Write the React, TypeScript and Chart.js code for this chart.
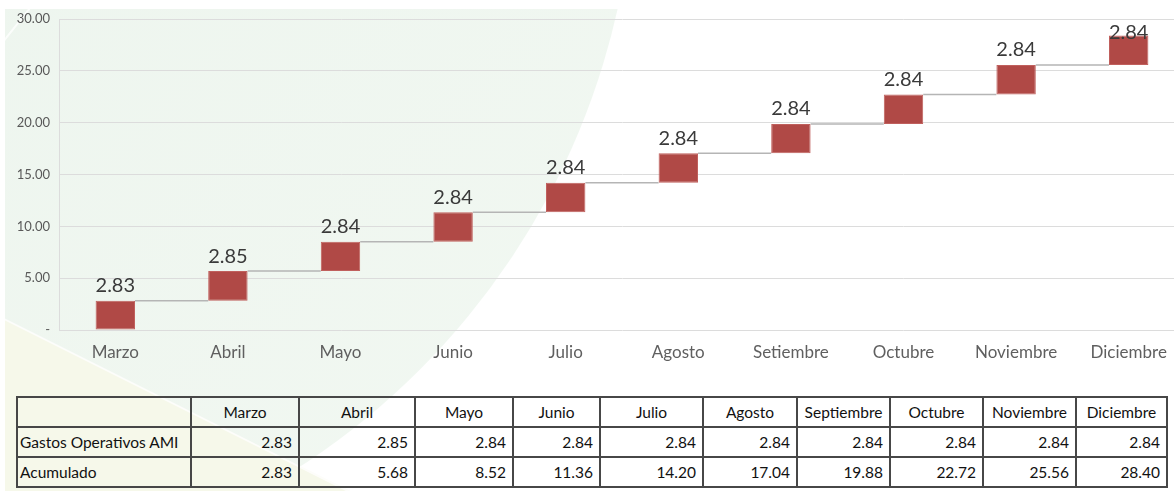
import React, { useEffect, useRef } from "react";
import { Chart, registerables } from "chart.js";

Chart.register(...registerables);

const chartMonths = ["Marzo", "Abril", "Mayo", "Junio", "Julio", "Agosto", "Setiembre", "Octubre", "Noviembre", "Diciembre"];
const tableMonths = ["Marzo", "Abril", "Mayo", "Junio", "Julio", "Agosto", "Septiembre", "Octubre", "Noviembre", "Diciembre"];
const gastos = [2.83, 2.85, 2.84, 2.84, 2.84, 2.84, 2.84, 2.84, 2.84, 2.84];
const acumulado = [2.83, 5.68, 8.52, 11.36, 14.2, 17.04, 19.88, 22.72, 25.56, 28.4];
const rowLabels = ["Gastos Operativos AMI", "Acumulado"];
const yMin = 0;
const yMax = 30;
const yStep = 5;

const colWidths = [174, 108, 116, 98, 87, 103, 94, 93, 93, 93, 91];

const waterfallPlugin = {
  id: "waterfall",
  afterDatasetsDraw(chart: any) {
    const ctx = chart.ctx;
    const meta = chart.getDatasetMeta(0);
    const y = chart.scales.y;
    const area = chart.chartArea;
    ctx.save();
    // connectors
    ctx.strokeStyle = "#b5b5b5";
    ctx.lineWidth = 1.5;
    for (let i = 0; i < meta.data.length - 1; i++) {
      const a = meta.data[i];
      const b = meta.data[i + 1];
      const yy = y.getPixelForValue(acumulado[i]);
      ctx.beginPath();
      ctx.moveTo(a.x + a.width / 2, yy);
      ctx.lineTo(b.x - b.width / 2, yy);
      ctx.stroke();
    }
    // labels
    ctx.fillStyle = "#3a3a3a";
    ctx.font = "20px Lato, 'Open Sans', sans-serif";
    ctx.textAlign = "center";
    ctx.textBaseline = "middle";
    for (let i = 0; i < meta.data.length; i++) {
      const el = meta.data[i];
      const top = y.getPixelForValue(acumulado[i]);
      const ly = Math.max(top - 15, area.top + 14);
      ctx.fillText(gastos[i].toFixed(2), el.x, ly);
    }
    ctx.restore();
  },
};

function ChartView() {
  const ref = useRef<HTMLCanvasElement | null>(null);
  useEffect(() => {
    if (!ref.current) return;
    const chart = new Chart(ref.current, {
      type: "bar",
      data: {
        labels: chartMonths,
        datasets: [
          {
            data: acumulado.map((v, i) => [i === 0 ? 0 : acumulado[i - 1], v]) as any,
            backgroundColor: "#b04946",
            borderColor: "#c0605d",
            borderWidth: 1,
            borderSkipped: false,
            barPercentage: 0.35,
            categoryPercentage: 1,
          },
        ],
      },
      options: {
        animation: false,
        responsive: false,
        layout: { padding: { left: 0, right: 15, top: 19, bottom: 0 } },
        plugins: { legend: { display: false }, tooltip: { enabled: false } },
        scales: {
          x: {
            grid: { display: false, drawTicks: false },
            border: { display: false },
            ticks: { color: "#5f5f5f", font: { family: "Lato, 'Open Sans', sans-serif", size: 17 }, padding: 12 },
            afterFit(scale: any) {
              scale.height = 45;
            },
          },
          y: {
            min: yMin,
            max: yMax,
            grid: { color: "#dcdcdc", drawTicks: false },
            border: { display: true, color: "#dcdcdc" },
            ticks: {
              stepSize: yStep,
              color: "#595959",
              padding: 9,
              font: { family: "Lato, 'Open Sans', sans-serif", size: 13 },
              callback: (v: any) => (Number(v) === 0 ? "-" : Number(v).toFixed(2)),
            },
            afterFit(scale: any) {
              scale.width = 59;
            },
          },
        },
      },
      plugins: [waterfallPlugin],
    });
    return () => chart.destroy();
  }, []);
  return <canvas ref={ref} width={1200} height={375} style={{ position: "absolute", left: 0, top: 0 }} />;
}

const cellBase: React.CSSProperties = {
  border: "2px solid #474747",
  padding: "0 6px 0 2px",
  height: 28,
  fontFamily: "Lato, 'Open Sans', sans-serif",
  fontSize: 15.5,
  color: "#111",
  whiteSpace: "nowrap",
  overflow: "hidden",
};

function DataTable() {
  return (
    <table
      style={{
        position: "absolute",
        left: 16,
        top: 396,
        borderCollapse: "collapse",
        tableLayout: "fixed",
        width: colWidths.reduce((a, b) => a + b, 0),
      }}
    >
      <colgroup>
        {colWidths.map((w, i) => (
          <col key={i} style={{ width: w }} />
        ))}
      </colgroup>
      <tbody>
        <tr>
          <td style={cellBase}></td>
          {tableMonths.map((m) => (
            <td key={m} style={{ ...cellBase, textAlign: "center", padding: 0 }}>
              {m}
            </td>
          ))}
        </tr>
        <tr>
          <td style={cellBase}>{rowLabels[0]}</td>
          {gastos.map((v, i) => (
            <td key={i} style={{ ...cellBase, textAlign: "right" }}>
              {v.toFixed(2)}
            </td>
          ))}
        </tr>
        <tr>
          <td style={cellBase}>{rowLabels[1]}</td>
          {acumulado.map((v, i) => (
            <td key={i} style={{ ...cellBase, textAlign: "right" }}>
              {v.toFixed(2)}
            </td>
          ))}
        </tr>
      </tbody>
    </table>
  );
}

function Background() {
  return (
    <svg width={1174} height={491} style={{ position: "absolute", left: 0, top: 0 }}>
      <defs>
        <linearGradient id="g1" x1="0" y1="0" x2="1" y2="1">
          <stop offset="0" stopColor="#e8f2ea" />
          <stop offset="1" stopColor="#f2f8f2" />
        </linearGradient>
        <clipPath id="c1">
          <rect x={5} y={9} width={1169} height={482} />
        </clipPath>
      </defs>
      <g clipPath="url(#c1)">
        <circle cx={-100} cy={-150} r={735} fill="url(#g1)" />
        <polygon points="0,317 350,491 0,491" fill="#f6f8ea" />
        <line x1={0} y1={317} x2={350} y2={492} stroke="#ffffff" strokeWidth={2} opacity={0.8} />
        <line x1={3} y1={42} x2={30} y2={8} stroke="#ffffff" strokeWidth={2} opacity={0.8} />
      </g>
    </svg>
  );
}

export default function App() {
  return (
    <div
      style={{
        position: "fixed",
        left: 0,
        top: 0,
        width: 1174,
        height: 491,
        overflow: "hidden",
        background: "#ffffff",
      }}
    >
      <Background />
      <ChartView />
      <DataTable />
    </div>
  );
}
